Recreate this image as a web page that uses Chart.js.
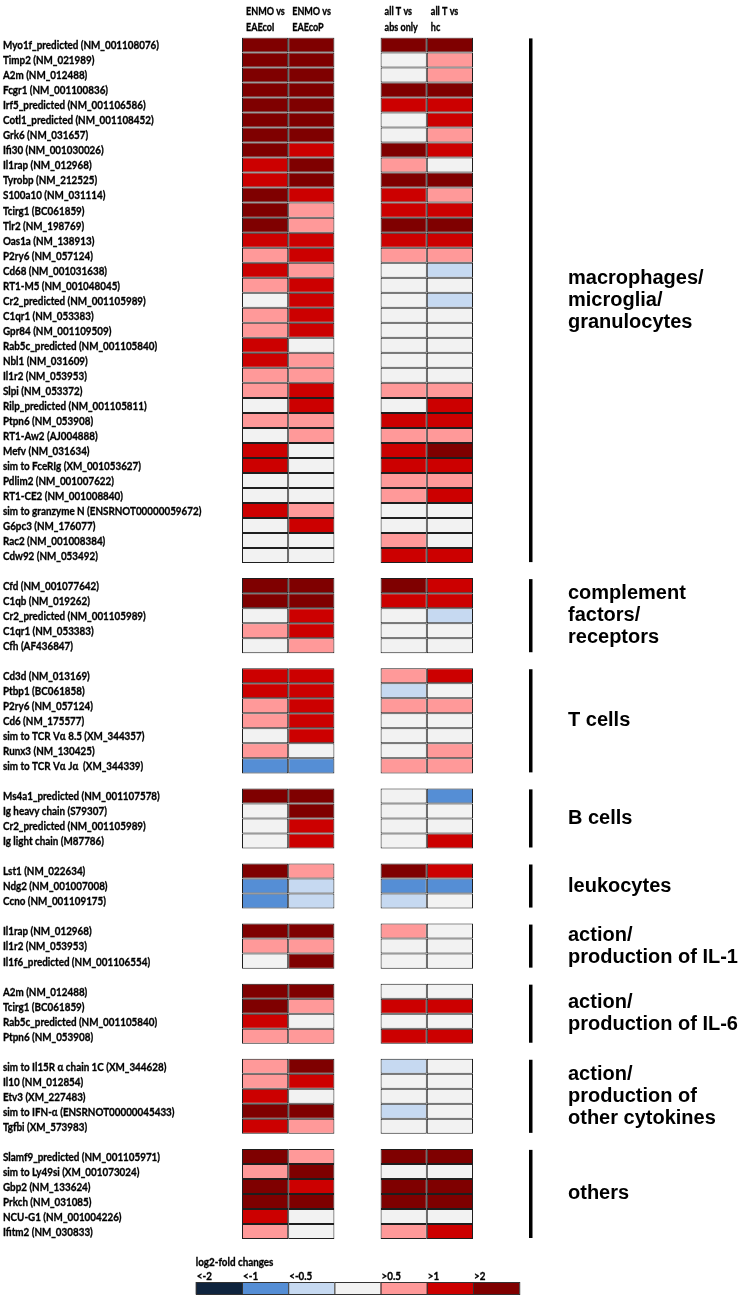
<!DOCTYPE html>
<html>
<head>
<meta charset="utf-8">
<script src="https://cdn.jsdelivr.net/npm/chart.js@4.4.1/dist/chart.umd.min.js"></script>
<style>
  html, body { margin: 0; padding: 0; background: #ffffff; }
  #wrap { width: 741px; height: 1296px; position: relative; }
</style>
</head>
<body>
<div id="wrap"><canvas id="c" width="741" height="1296"></canvas></div>
<script>
// ---------------- DATA ----------------
// log2-fold change classes (2.5 = ">2", 1.5 = ">1", 0.8 = ">0.5",
// 0 = unchanged, -0.8 = "<-0.5", -1.5 = "<-1", -2.5 = "<-2")
const columnHeaders = [["ENMO vs", "EAEcoI"], ["ENMO vs", "EAEcoP"], ["all T vs", "abs only"], ["all T vs", "hc"]];

const groupNames = [
  "macrophages/\nmicroglia/\ngranulocytes",
  "complement\nfactors/\nreceptors",
  "T cells",
  "B cells",
  "leukocytes",
  "action/\nproduction of IL-1",
  "action/\nproduction of IL-6",
  "action/\nproduction of\nother cytokines",
  "others"
];
const groupSizes = [35, 5, 7, 4, 3, 3, 4, 5, 6];

const genes = [
  "Myo1f_predicted (NM_001108076)", "Timp2 (NM_021989)", "A2m (NM_012488)", "Fcgr1 (NM_001100836)",
  "Irf5_predicted (NM_001106586)", "Cotl1_predicted (NM_001108452)", "Grk6 (NM_031657)", "Ifi30 (NM_001030026)",
  "Il1rap (NM_012968)", "Tyrobp (NM_212525)", "S100a10 (NM_031114)", "Tcirg1 (BC061859)", "Tlr2 (NM_198769)",
  "Oas1a (NM_138913)", "P2ry6 (NM_057124)", "Cd68 (NM_001031638)", "RT1-M5 (NM_001048045)",
  "Cr2_predicted (NM_001105989)", "C1qr1 (NM_053383)", "Gpr84 (NM_001109509)", "Rab5c_predicted (NM_001105840)",
  "Nbl1 (NM_031609)", "Il1r2 (NM_053953)", "Slpi (NM_053372)", "Rilp_predicted (NM_001105811)",
  "Ptpn6 (NM_053908)", "RT1-Aw2 (AJ004888)", "Mefv (NM_031634)", "sim to FceRIg (XM_001053627)",
  "Pdlim2 (NM_001007622)", "RT1-CE2 (NM_001008840)", "sim to granzyme N (ENSRNOT00000059672)",
  "G6pc3 (NM_176077)", "Rac2 (NM_001008384)", "Cdw92 (NM_053492)",
  "Cfd (NM_001077642)", "C1qb (NM_019262)", "Cr2_predicted (NM_001105989)", "C1qr1 (NM_053383)", "Cfh (AF436847)",
  "Cd3d (NM_013169)", "Ptbp1 (BC061858)", "P2ry6 (NM_057124)", "Cd6 (NM_175577)",
  "sim to TCR V\u03b1 8.5 (XM_344357)", "Runx3 (NM_130425)", "sim to TCR V\u03b1 J\u03b1  (XM_344339)",
  "Ms4a1_predicted (NM_001107578)", "Ig heavy chain (S79307)", "Cr2_predicted (NM_001105989)", "Ig light chain (M87786)",
  "Lst1 (NM_022634)", "Ndg2 (NM_001007008)", "Ccno (NM_001109175)",
  "Il1rap (NM_012968)", "Il1r2 (NM_053953)", "Il1f6_predicted (NM_001106554)",
  "A2m (NM_012488)", "Tcirg1 (BC061859)", "Rab5c_predicted (NM_001105840)", "Ptpn6 (NM_053908)",
  "sim to Il15R \u03b1 chain 1C (XM_344628)", "Il10 (NM_012854)", "Etv3 (XM_227483)",
  "sim to IFN-\u03b1 (ENSRNOT00000045433)", "Tgfbi (XM_573983)",
  "Slamf9_predicted (NM_001105971)", "sim to Ly49si (XM_001073024)", "Gbp2 (NM_133624)", "Prkch (NM_031085)",
  "NCU-G1 (NM_001004226)", "Ifitm2 (NM_030833)"
];

const enmoVsEAEcoI = [
  2.5, 2.5, 2.5, 2.5, 2.5, 2.5, 2.5, 2.5, 1.5, 1.5, 2.5, 2.5, 2.5, 1.5, 0.8, 1.5, 0.8, 0, 0.8, 0.8,
  1.5, 1.5, 0.8, 0.8, 0, 0.8, 0, 1.5, 1.5, 0, 0, 1.5, 0, 0, 0,
  2.5, 2.5, 0, 0.8, 0,
  1.5, 1.5, 0.8, 0.8, 0, 0.8, -1.5,
  2.5, 0, 0, 0,
  2.5, -1.5, -1.5,
  2.5, 0.8, 0,
  2.5, 2.5, 1.5, 0.8,
  0.8, 0.8, 1.5, 2.5, 1.5,
  2.5, 0.8, 2.5, 2.5, 1.5, 0.8
];
const enmoVsEAEcoP = [
  2.5, 2.5, 2.5, 2.5, 2.5, 2.5, 2.5, 1.5, 2.5, 2.5, 1.5, 0.8, 0.8, 1.5, 1.5, 0.8, 1.5, 1.5, 1.5, 1.5,
  0, 0.8, 0.8, 1.5, 1.5, 0.8, 0.8, 0, 0, 0, 0, 0.8, 1.5, 0, 0,
  2.5, 2.5, 1.5, 1.5, 0.8,
  1.5, 1.5, 1.5, 1.5, 1.5, 0, -1.5,
  2.5, 2.5, 1.5, 1.5,
  0.8, -0.8, -0.8,
  2.5, 0.8, 2.5,
  2.5, 0.8, 0, 0.8,
  2.5, 1.5, 0, 2.5, 0.8,
  0.8, 2.5, 1.5, 2.5, 0, 0
];
const allTvsAbsOnly = [
  2.5, 0, 0, 2.5, 1.5, 0, 0, 2.5, 0.8, 2.5, 1.5, 1.5, 2.5, 1.5, 0.8, 0, 0, 0, 0, 0,
  0, 0, 0, 0.8, 0, 1.5, 0.8, 1.5, 1.5, 0.8, 0.8, 0, 0, 0.8, 1.5,
  2.5, 1.5, 0, 0, 0,
  0.8, -0.8, 0.8, 0, 0, 0, 0.8,
  0, 0, 0, 0,
  2.5, -1.5, -0.8,
  0.8, 0, 0,
  0, 1.5, 0, 1.5,
  -0.8, 0, 0, -0.8, 0,
  2.5, 0, 2.5, 2.5, 0, 0.8
];
const allTvsHc = [
  2.5, 0.8, 0.8, 2.5, 1.5, 1.5, 0.8, 1.5, 0, 2.5, 0.8, 1.5, 2.5, 1.5, 0.8, -0.8, 0, -0.8, 0, 0,
  0, 0, 0, 0.8, 1.5, 1.5, 0.8, 2.5, 1.5, 0.8, 1.5, 0, 0, 0, 1.5,
  1.5, 1.5, -0.8, 0, 0,
  1.5, 0, 0.8, 0, 0, 0.8, 0.8,
  -1.5, 0, 0, 1.5,
  1.5, -1.5, 0,
  0, 0, 0,
  0, 1.5, 0, 1.5,
  0, 0, 0, 0, 0,
  2.5, 0, 2.5, 2.5, 0, 1.5
];

const legendTitle = "log2-fold changes";
const legendLabels = ["<-2", "<-1", "<-0.5", "", ">0.5", ">1", ">2"];
const legendLevels = [-2.5, -1.5, -0.8, 0, 0.8, 1.5, 2.5];

// ---------------- STYLE ----------------
const palette = {
  navy: "#0f243e", blue: "#558ed5", lightBlue: "#c6d9f1", neutral: "#f2f2f2",
  pink: "#ff9999", red: "#cc0000", dark: "#7f0000"
};
function colorFor(v) {
  if (v > 2) return palette.dark;
  if (v > 1) return palette.red;
  if (v > 0.5) return palette.pink;
  if (v < -2) return palette.navy;
  if (v < -1) return palette.blue;
  if (v < -0.5) return palette.lightBlue;
  return palette.neutral;
}
const smallFont = "bold 12px Lato, sans-serif";
const headerFont = "bold 11px Lato, sans-serif";
const narrow = 0.82;   // horizontal compression to imitate a condensed (Calibri-like) face

function narrowText(ctx, text, x, y) {
  ctx.save();
  ctx.translate(x, y);
  ctx.scale(narrow, 1);
  ctx.fillText(text, 0, 0);
  ctx.lineWidth = 0.35;
  ctx.strokeStyle = ctx.fillStyle;
  ctx.strokeText(text, 0, 0);
  ctx.restore();
}

// ---------------- BUILD ROWS (group separators as empty rows) ----------------
const rowLabels = [];
const rowGene = [];
const groupStart = [];
let gi = 0;
groupSizes.forEach((n, g) => {
  if (g > 0) { rowLabels.push(""); rowGene.push(-1); }
  groupStart.push(rowLabels.length);
  for (let k = 0; k < n; k++) { rowLabels.push(genes[gi]); rowGene.push(gi); gi++; }
});

const columns = [enmoVsEAEcoI, enmoVsEAEcoP, allTvsAbsOnly, allTvsHc];
const columnSlots = [0, 1, 3, 4];

const datasets = columns.map((vals, c) => ({
  label: columnHeaders[c].join(" "),
  data: rowGene.map(g => g < 0 ? null : [columnSlots[c], columnSlots[c] + 1]),
  backgroundColor: rowGene.map(g => g < 0 ? "rgba(0,0,0,0)" : colorFor(vals[g])),
  borderColor: "#1e1e1e",
  borderWidth: 1,
  borderSkipped: false,
  inflateAmount: 0,
  barPercentage: 1,
  categoryPercentage: 1,
  grouped: false
}));

const overlay = {
  id: "overlay",
  afterDraw(chart) {
    const { ctx, chartArea, scales: { x, y } } = chart;
    const half = (y.getPixelForValue(1) - y.getPixelForValue(0)) / 2;
    ctx.save();
    ctx.fillStyle = "#000";
    ctx.textAlign = "left";
    ctx.textBaseline = "middle";
    ctx.font = smallFont;
    // row (gene) labels, placed by the category scale
    chart.data.labels.forEach((lab, i) => {
      if (lab) narrowText(ctx, lab, y.left, y.getPixelForValue(i) + 0.5);
    });
    // column headers
    ctx.font = headerFont;
    columnHeaders.forEach((lines, i) => {
      const px = x.getPixelForValue(columnSlots[i]) + 4;
      lines.forEach((t, j) => narrowText(ctx, t, px, 11 + j * 16));
    });
    // group brackets and labels
    groupSizes.forEach((n, g) => {
      const top = y.getPixelForValue(groupStart[g]) - half;
      const bot = y.getPixelForValue(groupStart[g] + n - 1) + half;
      ctx.fillStyle = "#000";
      ctx.fillRect(chartArea.right + 56, top + 1, 3.5, bot - top - 2);
      const lines = groupNames[g].split("\n");
      const lh = 22;
      const mid = (top + bot) / 2;
      ctx.font = "bold 20px 'Liberation Sans', Arial, sans-serif";
      lines.forEach((t, j) => {
        ctx.fillText(t, chartArea.right + 95, mid + (j - (lines.length - 1) / 2) * lh);
      });
    });
    // colour legend
    const ly = chartArea.bottom + 43;
    ctx.font = smallFont;
    ctx.fillStyle = "#000";
    narrowText(ctx, legendTitle, x.getPixelForValue(-1), chartArea.bottom + 23);
    legendLevels.forEach((lv, i) => {
      const x0 = x.getPixelForValue(i - 1), x1 = x.getPixelForValue(i);
      ctx.fillStyle = colorFor(lv);
      ctx.fillRect(x0, ly, x1 - x0, 12);
      ctx.strokeStyle = "#333";
      ctx.lineWidth = 1;
      ctx.strokeRect(x0 + 0.5, ly + 0.5, x1 - x0, 12);
      ctx.fillStyle = "#000";
      if (legendLabels[i]) narrowText(ctx, legendLabels[i], x0 + 1, ly - 6);
    });
    ctx.restore();
  }
};

new Chart(document.getElementById("c"), {
  type: "bar",
  data: { labels: rowLabels, datasets },
  options: {
    indexAxis: "y",
    responsive: false,
    animation: false,
    devicePixelRatio: 1,
    layout: { padding: { top: 37.4, bottom: 57, left: 3, right: 268 } },
    plugins: { legend: { display: false }, tooltip: { enabled: false } },
    scales: {
      x: { type: "linear", min: 0, max: 5, display: false },
      y: {
        type: "category",
        grid: { display: false },
        border: { display: false },
        afterFit(scale) { scale.width = 239; },
        ticks: { display: false, autoSkip: false }
      }
    }
  },
  plugins: [overlay]
});
</script>
</body>
</html>
